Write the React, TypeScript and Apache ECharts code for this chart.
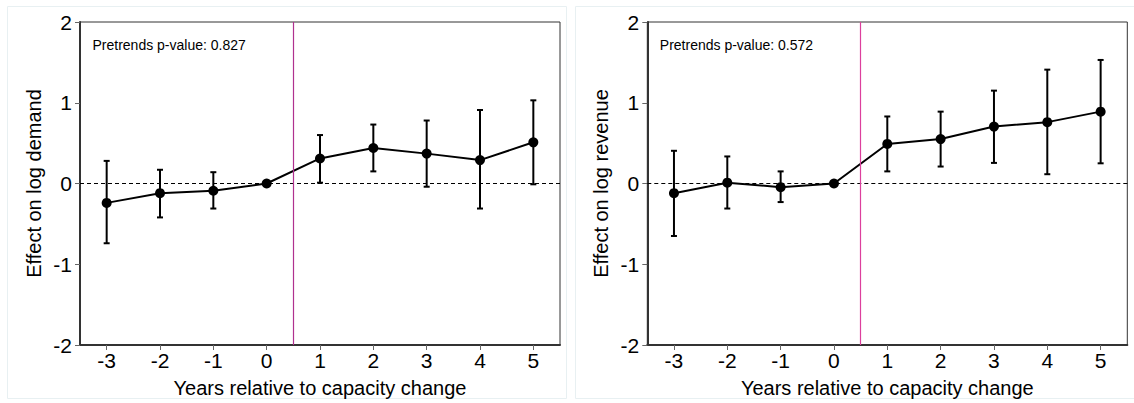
import React, { useEffect, useRef } from "react";
import * as echarts from "echarts";

const years = [-3, -2, -1, 0, 1, 2, 3, 4, 5];
const demandEst = [-0.24, -0.12, -0.09, 0, 0.31, 0.44, 0.37, 0.29, 0.51];
const demandLo = [-0.74, -0.42, -0.31, null, 0.01, 0.15, -0.04, -0.31, -0.01];
const demandHi = [0.28, 0.17, 0.14, null, 0.6, 0.73, 0.78, 0.91, 1.03];
const revenueEst = [-0.12, 0.01, -0.045, 0, 0.49, 0.55, 0.705, 0.76, 0.89];
const revenueLo = [-0.65, -0.31, -0.23, null, 0.15, 0.21, 0.255, 0.115, 0.25];
const revenueHi = [0.405, 0.335, 0.15, null, 0.83, 0.89, 1.15, 1.41, 1.53];
const yTicks = [-2, -1, 0, 1, 2];
const pValues = ["0.827", "0.572"];
const yTitles = ["Effect on log demand", "Effect on log revenue"];
const xTitle = "Years relative to capacity change";
const treatLineColors = ["#b0308f", "#dc3f9d"];

const FONT = "'Liberation Sans', Arial, sans-serif";

export default function App() {
  const ref = useRef<HTMLDivElement>(null);

  useEffect(() => {
    if (!ref.current) return;
    const chart = echarts.init(ref.current, null, { renderer: "svg" });

    const panels = [
      { est: demandEst, lo: demandLo, hi: demandHi },
      { est: revenueEst, lo: revenueLo, hi: revenueHi },
    ];
    const gridLefts = [80, 647.3];

    const grids = gridLefts.map((l) => ({
      left: l,
      top: 22,
      width: 480,
      height: 323,
      show: true,
      borderColor: "#333",
      borderWidth: 1,
      backgroundColor: "transparent",
    }));

    const labelStyle = { fontSize: 21, color: "#000", fontFamily: FONT };

    const xAxes = panels.map((_, i) => ({
      type: "value",
      gridIndex: i,
      min: -3.5,
      max: 5.5,
      name: xTitle,
      nameLocation: "middle",
      nameGap: 33,
      nameTextStyle: { fontSize: 20, color: "#000", fontFamily: FONT },
      axisLine: { onZero: false, lineStyle: { color: "#333", width: 2 } },
      axisTick: { show: true, length: 5, lineStyle: { color: "#666" }, customValues: years },
      axisLabel: { ...labelStyle, margin: 5, customValues: years, formatter: (v: number) => String(v) },
      splitLine: { show: false },
    }));

    const yAxes = panels.map((_, i) => ({
      type: "value",
      gridIndex: i,
      min: yTicks[0],
      max: yTicks[yTicks.length - 1],
      interval: 1,
      name: yTitles[i],
      nameLocation: "middle",
      nameGap: 36,
      nameTextStyle: { fontSize: 20, color: "#000", fontFamily: FONT },
      axisLine: { show: true, onZero: false, lineStyle: { color: "#333", width: 2 } },
      axisTick: { show: true, length: 5, lineStyle: { color: "#666" } },
      axisLabel: { ...labelStyle, margin: 8 },
      splitLine: { show: false },
    }));

    const series: any[] = [];
    panels.forEach((p, i) => {
      const barData = years
        .map((x, k) => (p.lo[k] == null ? null : [x, p.lo[k], p.hi[k]]))
        .filter((d) => d !== null);
      series.push({
        type: "custom",
        xAxisIndex: i,
        yAxisIndex: i,
        data: barData,
        z: 3,
        renderItem: (params: any, api: any) => {
          const x = api.value(0);
          const a = api.coord([x, api.value(1)]);
          const b = api.coord([x, api.value(2)]);
          const cw = 3;
          const st = { stroke: "#000", lineWidth: 2 };
          return {
            type: "group",
            children: [
              { type: "line", shape: { x1: a[0], y1: a[1], x2: b[0], y2: b[1] }, style: st },
              { type: "line", shape: { x1: a[0] - cw, y1: a[1], x2: a[0] + cw, y2: a[1] }, style: st },
              { type: "line", shape: { x1: b[0] - cw, y1: b[1], x2: b[0] + cw, y2: b[1] }, style: st },
            ],
          };
        },
      });
      series.push({
        type: "line",
        xAxisIndex: i,
        yAxisIndex: i,
        data: years.map((x, k) => [x, p.est[k]]),
        symbol: "circle",
        symbolSize: 10,
        z: 4,
        lineStyle: { color: "#000", width: 2 },
        itemStyle: { color: "#000" },
        markLine: {
          silent: true,
          symbol: "none",
          label: { show: false },
          data: [
            { yAxis: 0, lineStyle: { color: "#000", width: 1.2, type: [4, 3] } },
            { xAxis: 0.5, lineStyle: { color: treatLineColors[i], width: 1.2, type: "solid" } },
          ],
        },
      });
    });

    const graphic: any[] = [
      { type: "rect", shape: { x: 7.5, y: 6.5, width: 559, height: 392 }, style: { fill: "none", stroke: "#e8f0f2", lineWidth: 1 }, silent: true },
      { type: "rect", shape: { x: 575.5, y: 6.5, width: 559, height: 392 }, style: { fill: "none", stroke: "#e8f0f2", lineWidth: 1 }, silent: true },
    ];
    gridLefts.forEach((l, i) => {
      graphic.push({
        type: "text",
        x: l + 12.5,
        y: 45,
        style: {
          text: "Pretrends p-value: " + pValues[i],
          fontSize: 14,
          fontFamily: FONT,
          fill: "#000",
          verticalAlign: "middle",
        },
      });
    });

    chart.setOption({
      animation: false,
      backgroundColor: "#fff",
      grid: grids,
      xAxis: xAxes,
      yAxis: yAxes,
      series,
      graphic,
    });

    return () => chart.dispose();
  }, []);

  return (
    <div
      ref={ref}
      style={{ position: "absolute", left: 0, top: 0, width: 1134, height: 403 }}
    />
  );
}
